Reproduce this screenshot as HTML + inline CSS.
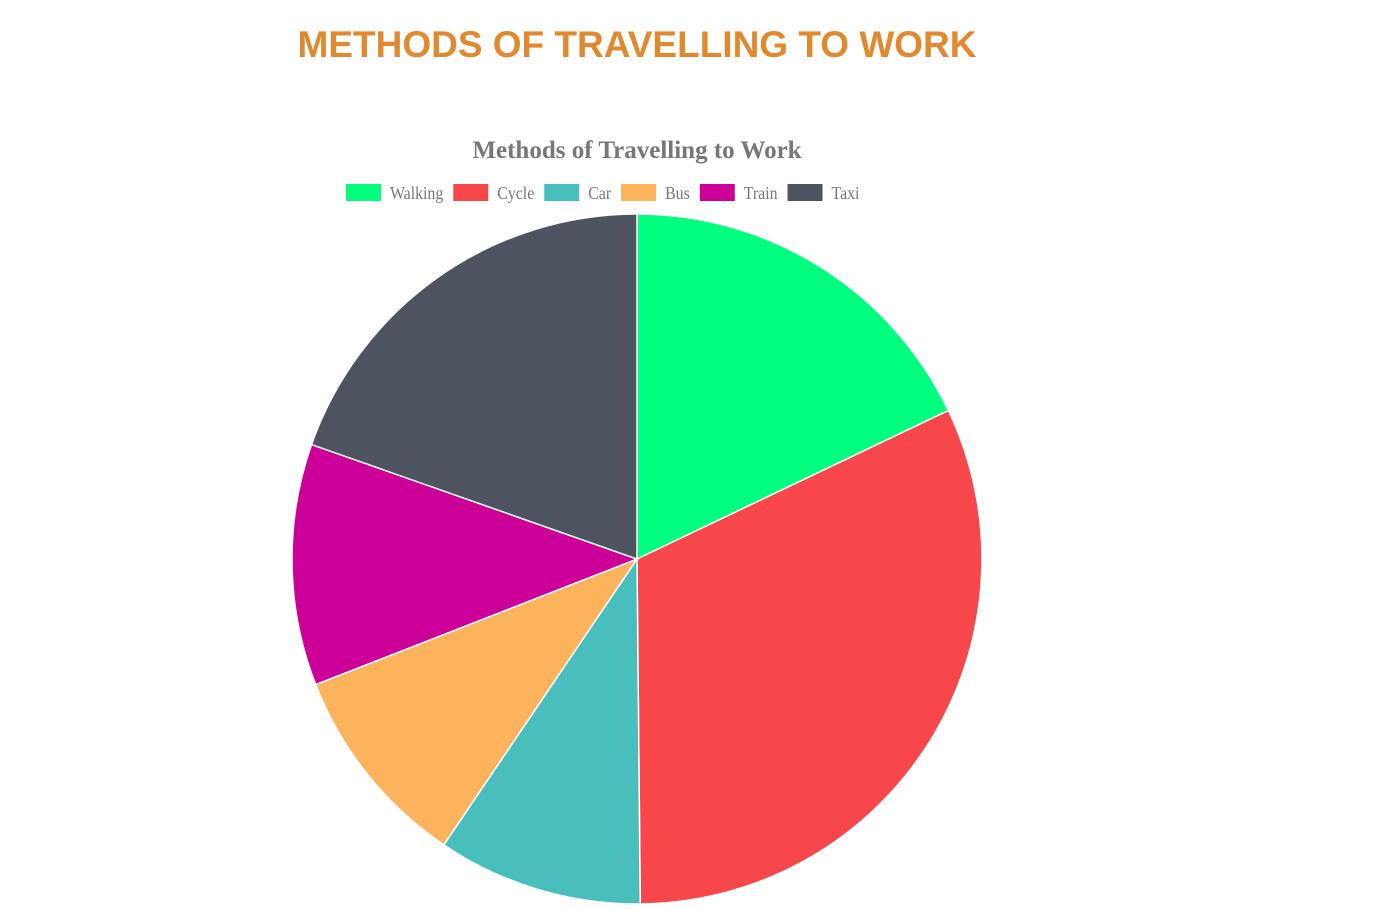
<!DOCTYPE html>
<html><head><meta charset="utf-8"><style>
body{margin:0;background:#fff;width:1377px;height:909px;overflow:hidden}
#t{position:absolute;left:0;width:1274px;top:24px;text-align:center;font:bold 37px "Liberation Sans",sans-serif;color:#E0892F;margin:0}
svg{position:absolute;left:0;top:0}
.lt{font-family:"Liberation Serif",serif;font-size:18px;fill:#777}
</style></head><body>
<h1 id="t">METHODS OF TRAVELLING TO WORK</h1>
<svg id="c" width="1377" height="909">
<text x="637" y="158" text-anchor="middle" font-family="Liberation Serif,serif" font-weight="bold" font-size="25" fill="#777">Methods of Travelling to Work</text>
<g id="legend"></g>
<g id="slices"></g>
</svg>
<script>
const categories=["Walking","Cycle","Car","Bus","Train","Taxi"];
const values=[17.9,31.9,9.6,9.6,11.3,19.6];
const colors=["#00FF7F","#F7474A","#48BFBD","#FDB25C","#CC0099","#4E5360"];
const NS="http://www.w3.org/2000/svg";
const cx=637,cy=559,r=345;
const total=values.reduce((a,b)=>a+b,0);
const sg=document.getElementById('slices');
let a0=-Math.PI/2;
values.forEach((v,i)=>{
  const a1=a0+v/total*2*Math.PI;
  const x0=cx+r*Math.cos(a0),y0=cy+r*Math.sin(a0),x1=cx+r*Math.cos(a1),y1=cy+r*Math.sin(a1);
  const p=document.createElementNS(NS,'path');
  p.setAttribute('d',`M${cx},${cy}L${x0},${y0}A${r},${r} 0 ${a1-a0>Math.PI?1:0} 1 ${x1},${y1}Z`);
  p.setAttribute('fill',colors[i]);p.setAttribute('stroke','#fff');p.setAttribute('stroke-width','1.5');
  
  
  sg.appendChild(p);a0=a1;
});
const lg=document.getElementById('legend');
const items=[];
categories.forEach((c,i)=>{
  const g=document.createElementNS(NS,'g');
  
  
  const rect=document.createElementNS(NS,'rect');
  rect.setAttribute('width',35);rect.setAttribute('height',17);rect.setAttribute('y',184);rect.setAttribute('fill',colors[i]);
  const t=document.createElementNS(NS,'text');
  t.textContent=c;t.setAttribute('y',199);t.setAttribute('class','lt');
  g.appendChild(rect);g.appendChild(t);lg.appendChild(g);
  items.push([rect,t]);
});
let x=346;
items.forEach(([rect,t])=>{
  const w=t.getComputedTextLength()*0.88;
  t.setAttribute('textLength',w);t.setAttribute('lengthAdjust','spacingAndGlyphs');
  rect.setAttribute('x',x);t.setAttribute('x',x+44);
  x+=44+w+10;
});
</script>
</body></html>
